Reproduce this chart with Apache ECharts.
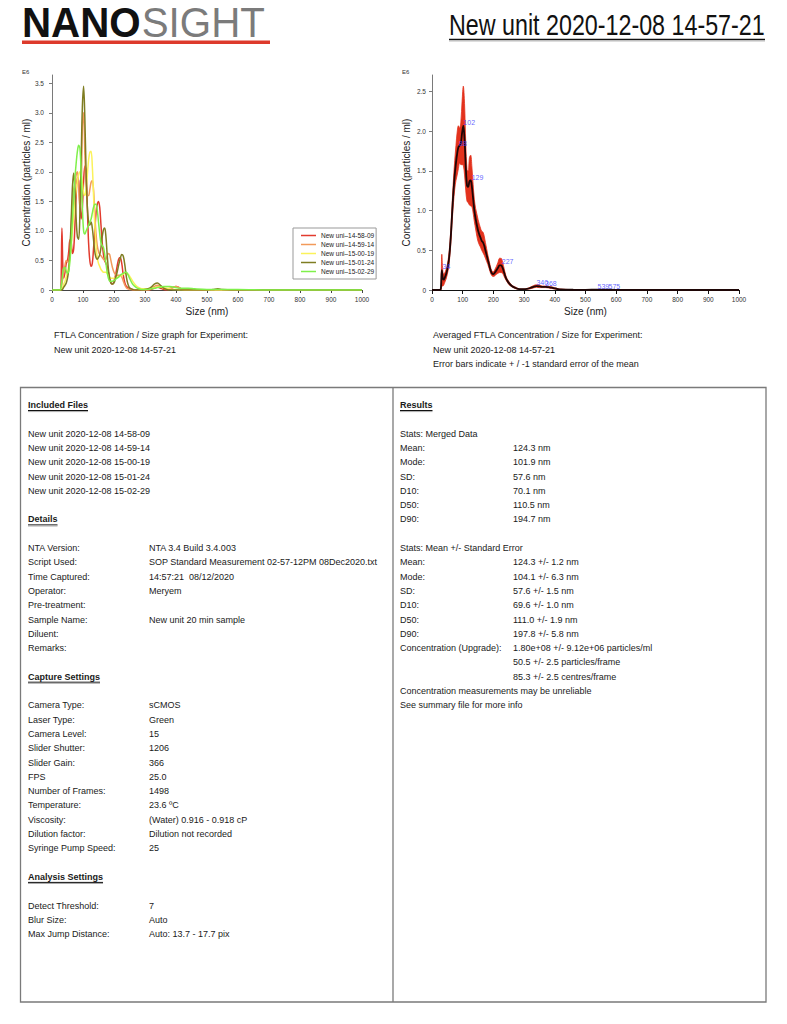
<!DOCTYPE html>
<html><head><meta charset="utf-8">
<script src="https://cdn.jsdelivr.net/npm/echarts@6/dist/echarts.min.js"></script>
<style>html,body{margin:0;padding:0;background:#fff}#c{width:787px;height:1024px}</style>
</head><body><div id="c"></div>
<script>
// ---------- DATA ----------
const sizes = [0,20,26,29,32,35,38,42,46,50,54,58,62,66,70,74,78,82,86,90,94,98,102,106,110,114,118,122,126,130,134,138,142,146,150,154,158,162,166,170,174,178,182,186,190,195,200,205,210,215,220,225,230,235,240,245,250,260,270,280,290,300,310,320,330,340,350,360,370,380,390,400,410,420,440,460,500,520,535,550,600,700,800,900,1000];

const run_14_58_09 = [0,0,0,0.05,1.05,0.4,0.2,
 0.3,0.45,0.5,0.65,0.85,0.8,0.62,0.7,1.1,1.6,
 1.9,1.85,1.45,1.2,1.4,1.85,2.1,2.0,1.4,0.8,
 0.5,0.4,0.45,0.7,1.0,1.3,1.45,1.5,1.4,1.1,
 0.8,0.6,0.5,0.45,0.4,0.3,0.2,0.12,
 0.1,0.15,0.25,0.4,0.52,0.55,0.45,0.25,0.12,0.06,0.04,0.03,
 0.01,0,0,0,0,0,0.01,0.03,0.05,0.03,
 0.01,0,0.01,0.04,0.06,0.04,0.01,0,0,
 0,0,0,0,0,0,0,0,0];
const run_14_59_14 = [0,0,0,0.02,0.1,0.2,0.3,
 0.42,0.5,0.48,0.5,0.7,1.1,1.5,1.7,1.8,1.95,
 2.0,1.75,1.4,1.6,2.75,3.0,2.3,1.8,1.6,1.6,
 1.7,1.82,1.85,1.7,1.3,0.95,0.75,0.65,0.6,0.58,
 0.55,0.52,0.5,0.52,0.58,0.62,0.6,0.5,
 0.38,0.3,0.26,0.25,0.25,0.25,0.22,0.15,0.08,0.04,0.02,0.01,
 0,0,0,0,0,0,0.02,0.06,0.08,0.06,
 0.03,0.02,0.03,0.05,0.06,0.04,0.01,0,0,
 0,0,0,0,0,0,0,0,0];
const run_15_00_19 = [0,0,0,0,0.02,0.05,0.1,
 0.15,0.22,0.3,0.4,0.55,0.75,1.0,1.25,1.5,1.7,
 1.85,1.95,2.0,1.95,1.8,1.65,1.6,1.7,1.95,2.2,
 2.33,2.35,2.1,1.6,1.1,0.75,0.55,0.45,0.4,0.35,
 0.32,0.3,0.3,0.3,0.28,0.25,0.22,0.2,
 0.2,0.2,0.21,0.22,0.22,0.23,0.25,0.27,0.28,0.28,0.27,0.24,
 0.15,0.08,0.04,0.02,0.02,0.02,0.03,0.04,0.05,0.05,
 0.04,0.03,0.02,0.01,0.01,0,0,0,0,
 0,0,0,0,0,0,0,0,0];
const run_15_01_24 = [0,0,0,0,0,0.02,0.05,
 0.08,0.12,0.2,0.35,0.7,1.2,1.75,1.98,1.7,1.2,
 0.9,0.86,1.3,2.2,3.1,3.45,2.9,2.0,1.4,1.15,
 1.1,1.15,1.05,0.85,0.65,0.55,0.52,0.55,0.6,0.72,
 0.9,1.02,1.05,0.9,0.6,0.35,0.2,0.12,
 0.1,0.12,0.2,0.3,0.42,0.53,0.6,0.57,0.42,0.22,0.1,0.04,
 0.01,0,0,0,0.01,0.02,0.05,0.1,0.12,0.08,
 0.03,0.01,0,0,0,0,0,0,0,
 0,0.01,0.02,0.01,0,0,0,0,0];
const run_15_02_29 = [0,0,0,0.05,0.15,0.3,0.37,
 0.38,0.32,0.28,0.32,0.5,0.8,1.2,1.6,1.9,2.15,
 2.35,2.45,2.4,2.0,1.4,1.0,0.95,1.0,1.05,1.1,
 1.15,1.2,1.3,1.4,1.45,1.45,1.35,1.15,0.95,0.8,
 0.75,0.72,0.6,0.45,0.3,0.2,0.15,0.15,
 0.15,0.16,0.18,0.2,0.22,0.25,0.27,0.28,0.3,0.3,0.26,0.2,
 0.1,0.05,0.02,0.01,0.01,0.01,0.02,0.03,0.04,0.05,
 0.06,0.06,0.06,0.05,0.04,0.03,0.03,0.03,0.02,
 0.01,0.01,0.01,0.01,0.01,0,0,0,0];

const avgConc = [0,0,0,0.02,0.25,0.15,0.13,
 0.16,0.2,0.26,0.35,0.5,0.72,1.0,1.25,1.45,1.6,
 1.72,1.8,1.82,1.85,1.98,2.07,1.9,1.55,1.32,1.3,
 1.37,1.38,1.3,1.15,1.0,0.9,0.82,0.75,0.7,0.66,
 0.62,0.6,0.56,0.5,0.44,0.38,0.32,0.26,
 0.21,0.2,0.22,0.25,0.28,0.31,0.31,0.28,0.22,0.16,0.12,0.09,
 0.05,0.03,0.015,0.01,0.01,0.015,0.025,0.04,0.05,0.045,
 0.04,0.04,0.035,0.03,0.02,0.012,0.008,0.005,0.003,
 0.002,0.003,0.005,0.004,0.002,0,0,0,0];
const avgErr = [0,0,0,0.02,0.2,0.1,0.07,
 0.06,0.06,0.06,0.07,0.08,0.1,0.12,0.15,0.18,0.22,
 0.27,0.27,0.22,0.27,0.4,0.5,0.45,0.3,0.2,0.2,
 0.3,0.32,0.25,0.18,0.14,0.13,0.14,0.14,0.13,0.12,
 0.12,0.13,0.12,0.1,0.08,0.06,0.05,0.04,
 0.03,0.03,0.04,0.05,0.07,0.09,0.09,0.07,0.05,0.03,0.02,0.02,
 0.01,0.01,0.005,0,0,0.005,0.01,0.015,0.015,0.015,
 0.01,0.01,0.01,0.01,0.008,0.005,0.003,0.002,0,
 0,0,0,0,0,0,0,0,0];

const peakSizes = [34,88,102,129,227,340,368,539,575];
const peakConc = [0.25,1.8,2.07,1.38,0.31,0.05,0.04,0.005,0.005];

const xTicks = [0,100,200,300,400,500,600,700,800,900,1000];
const yTicksLeft = [0,0.5,1,1.5,2,2.5,3,3.5];
const yTicksRight = [0,0.5,1,1.5,2,2.5];

const runNames = ['New uni\u201314-58-09','New uni\u201314-59-14','New uni\u201315-00-19','New uni\u201315-01-24','New uni\u201315-02-29'];
const runColors = ['#e23b2e','#f29a5a','#fbf25a','#7f7d22','#7ff04a'];
const runs = [run_14_58_09, run_14_59_14, run_15_00_19, run_15_01_24, run_15_02_29];

// ---------- TEXT ----------
const reportTitle = 'New unit 2020-12-08 14-57-21';
const leftCaption = ['FTLA Concentration / Size graph for Experiment:', 'New unit 2020-12-08 14-57-21'];
const rightCaption = ['Averaged FTLA Concentration / Size for Experiment:', 'New unit 2020-12-08 14-57-21', 'Error bars indicate + / -1 standard error of the mean'];
const includedFiles = ['New unit 2020-12-08 14-58-09','New unit 2020-12-08 14-59-14','New unit 2020-12-08 15-00-19','New unit 2020-12-08 15-01-24','New unit 2020-12-08 15-02-29'];
const detailsRows = [['NTA Version:','NTA 3.4 Build 3.4.003'],['Script Used:','SOP Standard Measurement 02-57-12PM 08Dec2020.txt'],['Time Captured:','14:57:21  08/12/2020'],['Operator:','Meryem'],['Pre-treatment:',''],['Sample Name:','New unit 20 min sample'],['Diluent:',''],['Remarks:','']];
const captureRows = [['Camera Type:','sCMOS'],['Laser Type:','Green'],['Camera Level:','15'],['Slider Shutter:','1206'],['Slider Gain:','366'],['FPS','25.0'],['Number of Frames:','1498'],['Temperature:','23.6 \u00baC'],['Viscosity:','(Water) 0.916 - 0.918 cP'],['Dilution factor:','Dilution not recorded'],['Syringe Pump Speed:','25']];
const analysisRows = [['Detect Threshold:','7'],['Blur Size:','Auto'],['Max Jump Distance:','Auto: 13.7 - 17.7 pix']];
const mergedRows = [['Mean:','124.3 nm'],['Mode:','101.9 nm'],['SD:','57.6 nm'],['D10:','70.1 nm'],['D50:','110.5 nm'],['D90:','194.7 nm']];
const seRows = [['Mean:','124.3 +/- 1.2 nm'],['Mode:','104.1 +/- 6.3 nm'],['SD:','57.6 +/- 1.5 nm'],['D10:','69.6 +/- 1.0 nm'],['D50:','111.0 +/- 1.9 nm'],['D90:','197.8 +/- 5.8 nm'],['Concentration (Upgrade):','1.80e+08 +/- 9.12e+06 particles/ml'],['','50.5 +/- 2.5 particles/frame'],['','85.3 +/- 2.5 centres/frame']];
const notes = ['Concentration measurements may be unreliable','See summary file for more info'];

// ---------- BUILD ----------
const FONT = '"Liberation Sans", Arial, Helvetica, sans-serif';
const mctx = document.createElement('canvas').getContext('2d');
function tw(text, size, bold){ mctx.font = (bold?'bold ':'') + size + 'px "Liberation Sans", Arial, sans-serif'; return mctx.measureText(text).width; }

const G = [];
function txt(x, y, text, o){ o = o || {};
  G.push({type:'text', x:x, y:y, silent:true, scaleX:o.sx||1,
    style:{text:text, fill:o.fill||'#1a1a1a', fontSize:o.size||9, fontWeight:o.bold?'bold':'normal', fontFamily:FONT, align:o.align||'left', verticalAlign:'middle'}});
}
function rect(x,y,w,h,fill){ G.push({type:'rect', silent:true, shape:{x:x,y:y,width:w,height:h}, style:{fill:fill}}); }
function seg(x1,y1,x2,y2,stroke,w){ G.push({type:'line', silent:true, shape:{x1:x1,y1:y1,x2:x2,y2:y2}, style:{stroke:stroke, lineWidth:w}}); }

// header
const logoSize = 42, logoSx = 0.96;
txt(22, 22.5, 'NANO', {size:logoSize, bold:true, sx:logoSx, fill:'#111'});
txt(22 + tw('NANO', logoSize, true)*logoSx + 1, 22.5, 'SIGHT', {size:logoSize, sx:logoSx, fill:'#7b7b7b'});
rect(22, 40.5, 248, 3.5, '#dd3a2c');
const titleSize = 29; const titleW = 316; const titleSx = titleW / tw(reportTitle, titleSize, false);
txt(449, 25, reportTitle, {size:titleSize, sx:titleSx, fill:'#111'});
seg(449, 39.5, 765, 39.5, '#111', 1.3);
seg(449, 41, 765, 41, '#bbb', 1);

// E6 labels
txt(22, 72, 'E6', {size:6, fill:'#333'});
txt(402, 72, 'E6', {size:6, fill:'#333'});

// captions
leftCaption.forEach((t,i)=>txt(54, 335 + i*14.5, t, {size:9}));
rightCaption.forEach((t,i)=>txt(433, 335 + i*14.5, t, {size:9}));

// report box
G.push({type:'rect', silent:true, shape:{x:20.5,y:387.5,width:745.5,height:614.5}, style:{fill:'none', stroke:'#7a7a7a', lineWidth:1.3}});
seg(393, 387.5, 393, 1002, '#7a7a7a', 1.3);

const rowY = i => 405 + 14.3*i;
function header(x, i, t){ const y = rowY(i); txt(x, y, t, {bold:true}); const w = tw(t, 9, true); seg(x, y+5.5, x+w, y+5.5, '#111', 1); seg(x, y+6.6, x+w, y+6.6, '#aaa', 1); }
function rows(x, vx, i0, arr){ arr.forEach((r,k)=>{ if (r[0]) txt(x, rowY(i0+k), r[0]); if (r[1]) txt(vx, rowY(i0+k), r[1]); }); }
const LX = 28, LV = 149, RX = 400, RV = 513;
header(LX, 0, 'Included Files');
includedFiles.forEach((f,k)=>txt(LX, rowY(2+k), f));
header(LX, 8, 'Details');
rows(LX, LV, 10, detailsRows);
header(LX, 19, 'Capture Settings');
rows(LX, LV, 21, captureRows);
header(LX, 33, 'Analysis Settings');
rows(LX, LV, 35, analysisRows);

header(RX, 0, 'Results');
txt(RX, rowY(2), 'Stats: Merged Data');
rows(RX, RV, 3, mergedRows);
txt(RX, rowY(10), 'Stats: Mean +/- Standard Error');
rows(RX, RV, 11, seRows);
notes.forEach((t,k)=>txt(RX, rowY(20+k), t));

// axes
function xAx(gi, lineColor, tickLen){ return {type:'value', gridIndex:gi, min:0, max:1000, interval:100,
  name:'Size (nm)', nameLocation:'middle', nameGap:16, nameTextStyle:{fontFamily:FONT, fontSize:10, color:'#222'},
  axisLine:{show:true, onZero:false, lineStyle:{color:lineColor, width:1}},
  axisTick:{show:true, length:tickLen, lineStyle:{color:lineColor}},
  axisLabel:{fontFamily:FONT, fontSize:6.5, color:'#333', margin:6, formatter: v => String(v)},
  splitLine:{show:false}, z:1}; }
function yAx(gi, max, ticks, margin){ return {type:'value', gridIndex:gi, min:0, max:max,
  name:'Concentration (particles / ml)', nameLocation:'middle', nameGap:21, nameRotate:90,
  nameTextStyle:{fontFamily:FONT, fontSize:10, color:'#222'},
  axisLine:{show:true, lineStyle:{color:'#7a7a7a', width:1}},
  axisTick:{show:true, length:3, customValues:ticks, lineStyle:{color:'#7a7a7a'}},
  axisLabel:{customValues:ticks, fontFamily:FONT, fontSize:6.5, color:'#333', margin:margin,
    formatter: v => v === 0 ? '0' : v.toFixed(1)},
  splitLine:{show:false}, z:1}; }

const series = runs.map((r,i)=>({type:'line', name:runNames[i], xAxisIndex:0, yAxisIndex:0,
  data: sizes.map((s,j)=>[s, r[j]]), smooth:0.35, symbol:'none', showSymbol:false,
  lineStyle:{width:1.5, color:runColors[i]}, itemStyle:{color:runColors[i]}, z:2+i, silent:true}));

series.push({type:'line', name:'upper', xAxisIndex:1, yAxisIndex:1,
  data: sizes.map((s,j)=>[s, avgConc[j]+avgErr[j]]), smooth:0.35, symbol:'none',
  lineStyle:{width:0.8, color:'#e3321d'}, areaStyle:{color:'#e3321d', opacity:1}, z:2, silent:true});
series.push({type:'line', name:'lower', xAxisIndex:1, yAxisIndex:1,
  data: sizes.map((s,j)=>[s, Math.max(0, avgConc[j]-avgErr[j])]), smooth:0.35, symbol:'none',
  lineStyle:{width:0.8, color:'#e3321d'}, areaStyle:{color:'#ffffff', opacity:1}, z:3, silent:true});
series.push({type:'line', name:'mean', xAxisIndex:1, yAxisIndex:1,
  data: sizes.map((s,j)=>[s, avgConc[j]]), smooth:0.35, symbol:'none',
  lineStyle:{width:1.8, color:'#1e0606'}, z:5, silent:true});
series.push({type:'scatter', name:'peaks', xAxisIndex:1, yAxisIndex:1,
  data: peakSizes.map((s,i)=>[s, peakConc[i]]), symbolSize:0.1, itemStyle:{color:'rgba(0,0,0,0)'},
  label:{show:true, position:'right', distance:0, offset:[0,-3.5], formatter: p => String(p.value[0]),
    color:'#3b3bff', fontSize:7, fontFamily:FONT}, z:20, silent:true});

const option = {
  animation:false,
  backgroundColor:'#fff',
  grid:[{left:52, top:75, width:310, height:215, outerBoundsMode:'none'},
        {left:432, top:75, width:307, height:215, outerBoundsMode:'none'}],
  xAxis:[xAx(0,'#444',3), xAx(1,'#111',4)],
  yAxis:[yAx(0,3.64,yTicksLeft,8), yAx(1,2.71,yTicksRight,6)],
  legend:{data:runNames, left:293, top:228, orient:'vertical', padding:[3,2,3,8], itemGap:0,
    itemWidth:15, itemHeight:1.5, icon:'rect', borderColor:'#999', borderWidth:1, backgroundColor:'#fff',
    selectedMode:false, textStyle:{fontFamily:FONT, fontSize:6.5, color:'#222', lineHeight:9}},
  series: series,
  graphic: G
};
const chart = echarts.init(document.getElementById('c'), null, {renderer:'svg', width:787, height:1024});
chart.setOption(option);
// keep axis lines visible above the white mask of the band
const opt2 = {xAxis:[{},{z:4}], yAxis:[{},{z:4}]};
chart.setOption(opt2);
</script>
</body></html>
